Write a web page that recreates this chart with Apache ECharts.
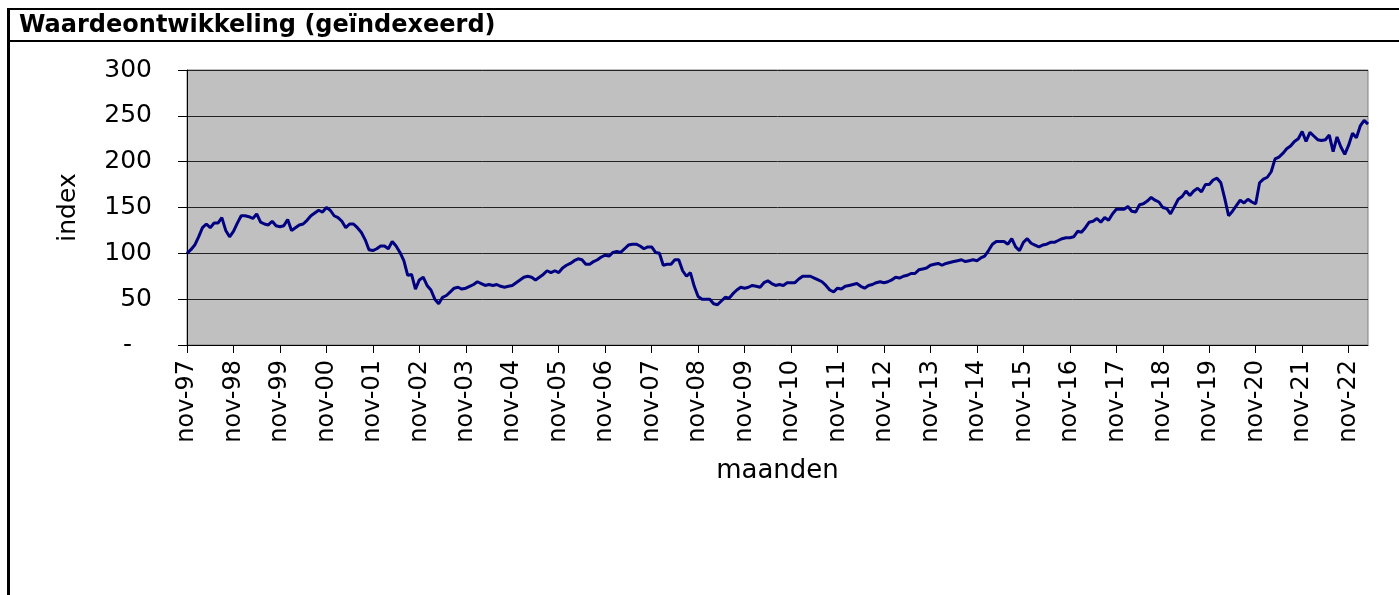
<!DOCTYPE html>
<html>
<head>
<meta charset="utf-8">
<script src="https://cdn.jsdelivr.net/npm/echarts@6/dist/echarts.min.js"></script>
<style>
html,body{margin:0;padding:0;background:#fff;}
#c{width:1399px;height:595px;}
</style>
</head>
<body>
<div id="c"></div>
<script>
// ---- data ----
const monthNames = ['jan','feb','mrt','apr','mei','jun','jul','aug','sep','okt','nov','dec'];
const startYear = 1997;
const startMonthIndex = 10; // nov
const yTicks = [0, 50, 100, 150, 200, 250, 300];
const indexValues = [
  100,104,109,118,128,132,128,133,133,139,125,118,
  124,133,141,141,140,138,143,134,132,131,135,130,
  129,130,137,125,128,131,132,136,141,144,147,145,
  150,147,141,139,135,128,132,132,128,123,115,104,
  103,105,108,108,105,113,108,101,92,76,77,61,
  71,74,65,60,50,45,52,54,58,62,63,61,
  62,64,66,69,67,65,66,65,66,64,63,64,
  65,68,71,74,75,74,71,74,77,81,79,81,
  79,84,87,89,92,94,93,88,88,91,93,96,
  98,97,101,102,101,105,109,110,110,108,105,107,
  107,101,100,87,88,88,93,93,81,75,79,64,
  53,50,50,50,45,44,48,52,51,56,60,63,
  62,63,65,64,63,68,70,67,65,66,65,68,
  68,68,72,75,75,75,73,71,69,65,60,58,
  62,61,64,65,66,67,64,62,65,66,68,69,
  68,69,71,74,73,75,76,78,78,82,83,84,
  87,88,89,87,89,90,91,92,93,91,92,93,
  92,95,97,103,110,113,113,113,110,116,107,103,
  112,116,111,109,107,109,110,112,112,114,116,117,
  117,118,124,123,128,134,135,138,134,139,136,143,
  148,148,148,151,146,145,153,154,157,161,158,156,
  150,149,143,151,159,162,168,163,168,171,167,175,
  175,180,182,177,160,141,146,152,158,155,159,156,
  154,177,181,183,189,203,205,209,214,217,222,225,
  233,222,232,228,224,223,224,229,211,227,216,208,
  218,231,226,239,245,241
];
const categories = indexValues.map((v, i) => {
  const m = (startMonthIndex + i) % 12;
  const y = startYear + Math.floor((startMonthIndex + i) / 12);
  return monthNames[m] + '-' + String(y % 100).padStart(2, '0');
});
const titleText = 'Waardeontwikkeling (geïndexeerd)';
const xName = 'maanden';
const yName = 'index';

// ---- chart ----
const chart = echarts.init(document.getElementById('c'), null, {renderer: 'canvas'});
const FONT = 'DejaVu Sans';
chart.setOption({
  animation: false,
  backgroundColor: '#ffffff',
  textStyle: {fontFamily: FONT},
  grid: {
    left: 187, top: 70, width: 1181, height: 275,
    show: true, backgroundColor: '#C0C0C0', borderColor: '#808080', borderWidth: 1
  },
  xAxis: {
    type: 'category',
    data: categories,
    boundaryGap: false,
    axisLine: {lineStyle: {color: '#000', width: 1}},
    axisTick: {interval: 11, length: 8, lineStyle: {color: '#000', width: 1}},
    axisLabel: {interval: 11, rotate: 90, fontSize: 24, color: '#000', margin: 15, fontFamily: FONT},
    splitLine: {show: false},
    name: xName, nameLocation: 'middle', nameGap: 113,
    nameTextStyle: {fontSize: 26, color: '#000', fontFamily: FONT}
  },
  yAxis: {
    type: 'value',
    min: yTicks[0], max: yTicks[yTicks.length - 1], interval: 50,
    axisLine: {show: true, lineStyle: {color: '#000', width: 1}},
    axisTick: {show: true, length: 9, lineStyle: {color: '#000', width: 1}},
    axisLabel: {
      fontSize: 25, color: '#000', margin: 35, fontFamily: FONT,
      formatter: v => v === 0 ? '{d|-}' : String(v),
      rich: {d: {fontSize: 25, color: '#000', fontFamily: FONT, padding: [0, 20, 0, 0]}}
    },
    splitLine: {lineStyle: {color: '#222', width: 1}},
    name: yName, nameLocation: 'middle', nameGap: 106,
    nameTextStyle: {fontSize: 25, color: '#000', fontFamily: FONT}
  },
  series: [{
    type: 'line',
    data: indexValues,
    symbol: 'none',
    lineStyle: {color: '#000080', width: 3},
    itemStyle: {color: '#000080'}
  }],
  graphic: [
    {type: 'line', shape: {x1: 7, y1: 9, x2: 1399, y2: 9}, style: {stroke: '#000', lineWidth: 2}},
    {type: 'line', shape: {x1: 7, y1: 41, x2: 1399, y2: 41}, style: {stroke: '#000', lineWidth: 2}},
    {type: 'line', shape: {x1: 8.5, y1: 8, x2: 8.5, y2: 595}, style: {stroke: '#000', lineWidth: 3}},
    {type: 'text', left: 19, top: 14, style: {text: titleText, font: 'bold 24px "DejaVu Sans"', fill: '#000'}}
  ]
});
</script>
</body>
</html>
